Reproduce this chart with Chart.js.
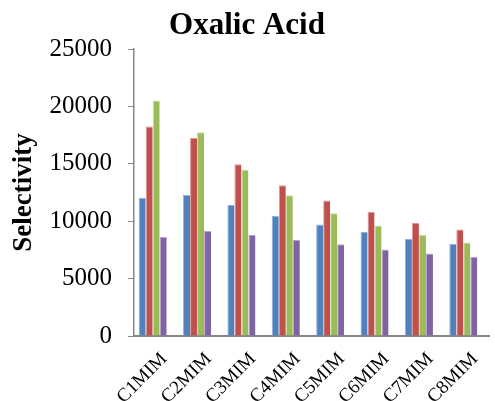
<!DOCTYPE html>
<html>
<head>
<meta charset="utf-8">
<script src="https://cdn.jsdelivr.net/npm/chart.js@4/dist/chart.umd.min.js"></script>
<style>
  html, body { margin: 0; padding: 0; background: #ffffff; }
  #wrap { width: 495px; height: 401px; position: relative; }
</style>
</head>
<body>
<div id="wrap"><canvas id="chart"></canvas></div>
<script>
// Ionic liquids (categories) and selectivity per series
const categories = ['C1MIM', 'C2MIM', 'C3MIM', 'C4MIM', 'C5MIM', 'C6MIM', 'C7MIM', 'C8MIM'];
const series1 = [12050, 12310, 11410, 10480, 9730, 9060, 8450, 8040];
const series2 = [18270, 17250, 14980, 13150, 11820, 10800, 9870, 9290];
const series3 = [20530, 17770, 14490, 12260, 10710, 9640, 8800, 8160];
const series4 = [8620, 9150, 8800, 8390, 7990, 7550, 7200, 6880];
const series5 = [0, 0, 0, 0, 0, 0, 0, 0];
const yTicks = [0, 5000, 10000, 15000, 20000, 25000];

const serif = '"Liberation Serif", "Times New Roman", serif';
const axisGrey = '#868686';

const mk = (label, data, color, edge) => ({
  label, data,
  backgroundColor: color,
  borderColor: edge,
  borderWidth: { top: 1, left: 1, right: 0, bottom: 0 },
  borderSkipped: 'bottom',
  barPercentage: 1.0,
  categoryPercentage: 0.79
});

new Chart(document.getElementById('chart'), {
  type: 'bar',
  data: {
    labels: categories,
    datasets: [
      mk('Series 1', series1, '#4F81BD', '#8FB0DA'),
      mk('Series 2', series2, '#C0504D', '#DE9795'),
      mk('Series 3', series3, '#9BBB59', '#C6DC9C'),
      mk('Series 4', series4, '#8064A2', '#B6A4CC'),
      mk('Series 5', series5, '#4BACC6', '#4BACC6')
    ]
  },
  options: {
    responsive: true,
    maintainAspectRatio: false,
    animation: false,
    devicePixelRatio: 1,
    layout: { padding: { left: 0, right: 1, top: 0, bottom: 0 } },
    plugins: {
      legend: { display: false },
      tooltip: { enabled: false },
      title: {
        display: true,
        text: 'Oxalic Acid',
        color: '#000',
        font: { family: serif, size: 31, weight: 'bold' },
        padding: { top: 7, bottom: 5 }
      }
    },
    scales: {
      x: {
        grid: { display: false, drawTicks: false },
        border: { display: true, color: axisGrey, width: 2 },
        ticks: {
          color: '#000',
          font: { family: serif, size: 19 },
          minRotation: 45,
          maxRotation: 45,
          padding: 12,
          labelOffset: 8,
          autoSkip: false
        },
        afterFit: (scale) => { scale.height = 65; }
      },
      y: {
        min: 0,
        max: 25000,
        afterBuildTicks: (scale) => { scale.ticks = yTicks.map(v => ({ value: v })); },
        grid: { drawOnChartArea: false, drawTicks: true, tickLength: 6, color: axisGrey, lineWidth: 1 },
        border: { display: true, color: axisGrey, width: 1.5 },
        ticks: {
          color: '#000',
          font: { family: serif, size: 25 },
          padding: 16,
          callback: (v) => String(v)
        },
        title: {
          display: true,
          text: 'Selectivity',
          color: '#000',
          font: { family: serif, size: 27, weight: 'bold' },
          padding: { top: 8, bottom: 0 }
        },
        afterFit: (scale) => { scale.width = 134; }
      }
    }
  }
});
</script>
</body>
</html>
